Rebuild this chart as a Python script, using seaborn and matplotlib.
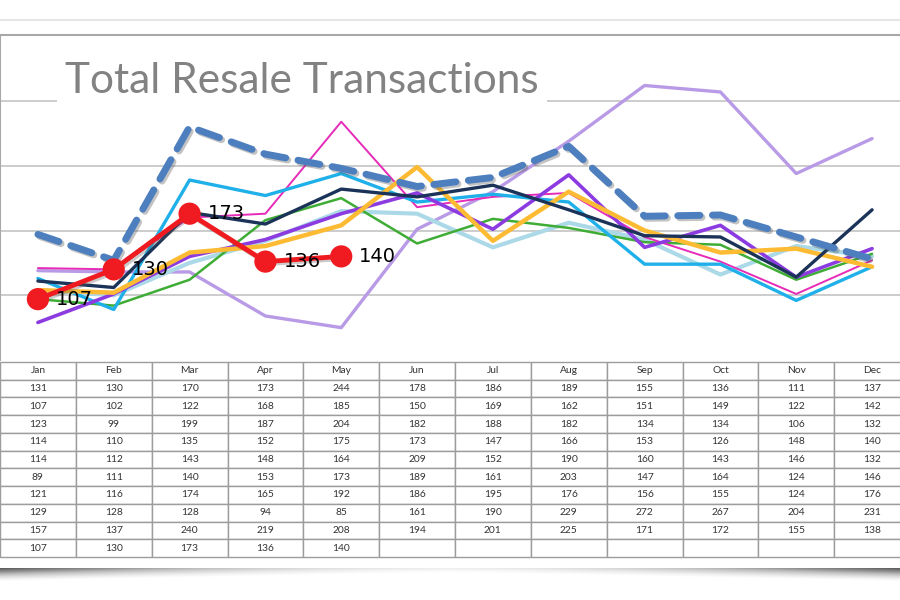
import matplotlib
matplotlib.use('Agg')
import matplotlib.pyplot as plt
import matplotlib.patheffects as pe
from matplotlib.lines import Line2D
import numpy as np
import seaborn as sns

months = ['Jan', 'Feb', 'Mar', 'Apr', 'May', 'Jun', 'Jul', 'Aug', 'Sep', 'Oct', 'Nov', 'Dec']

# one list per year (rows of the table, top to bottom)
year_1 = [131, 130, 170, 173, 244, 178, 186, 189, 155, 136, 111, 137]
year_2 = [107, 102, 122, 168, 185, 150, 169, 162, 151, 149, 122, 142]
year_3 = [123, 99, 199, 187, 204, 182, 188, 182, 134, 134, 106, 132]
year_4 = [114, 110, 135, 152, 175, 173, 147, 166, 153, 126, 148, 140]
year_5 = [114, 112, 143, 148, 164, 209, 152, 190, 160, 143, 146, 132]
year_6 = [89, 111, 140, 153, 173, 189, 161, 203, 147, 164, 124, 146]
year_7 = [121, 116, 174, 165, 192, 186, 195, 176, 156, 155, 124, 176]
year_8 = [129, 128, 128, 94, 85, 161, 190, 229, 272, 267, 204, 231]
year_9 = [157, 137, 240, 219, 208, 194, 201, 225, 171, 172, 155, 138]
current = [107, 130, 173, 136, 140]

rows = [year_1, year_2, year_3, year_4, year_5, year_6, year_7, year_8, year_9, current]

sns.set_style('white')

fig = plt.figure(figsize=(9, 6), dpi=100)
ax = fig.add_axes([0, 1 - 360 / 600, 910 / 900, 325 / 600])

# (data, colour, width, draw order)
styles = [
    (year_8, '#b99ae6', 2.4, 2),
    (year_4, '#acd9e8', 3.0, 2),
    (year_2, '#3fad35', 1.8, 3),
    (year_1, '#e62bb8', 1.4, 3),
    (year_3, '#1fb0ea', 2.4, 3),
    (year_6, '#8c3be0', 2.6, 4),
    (year_5, '#fdbb33', 3.2, 4),
    (year_7, '#1b3358', 2.4, 5),
]
x_all = list(range(12))
for vals, col, lw, z in styles:
    sns.lineplot(x=x_all, y=vals, ax=ax, color=col, lw=lw, zorder=z)

sns.lineplot(x=x_all, y=year_9, ax=ax, color='#4d7fbf', lw=5, zorder=6)
dash = ax.lines[-1]
dash.set_dashes([3.2, 1.8])
dash.set_dash_capstyle('round')
dash.set_path_effects([pe.SimpleLineShadow(offset=(1.5, -1.5), shadow_color='#555555', alpha=0.35), pe.Normal()])

x_cur = list(range(len(current)))
sns.lineplot(x=x_cur, y=current, ax=ax, color='#f01b20', lw=3.5, marker='o',
             markersize=16, markeredgewidth=0, zorder=7)
ax.lines[-1].set_path_effects([pe.SimpleLineShadow(offset=(1.5, -1.5), shadow_color='#555555', alpha=0.3), pe.Normal()])
for i, v in enumerate(current):
    ax.annotate(str(v), (i, v), xytext=(13, 0), textcoords='offset points',
                ha='left', va='center', fontsize=14, color='black', zorder=8)

ax.set_xlim(-0.5, 11.5)
ax.set_ylim(60, 311)
ax.set_yticks([110, 160, 210, 260])
ax.set_xticks([])
ax.yaxis.grid(True, color='#c4c4c4', lw=1.2)
ax.tick_params(left=False, labelleft=False)
ax.set_xlabel('')
ax.set_ylabel('')
for s in ['right', 'bottom']:
    ax.spines[s].set_visible(False)
for s in ['top', 'left']:
    ax.spines[s].set_color('#a8a8a8')
    ax.spines[s].set_linewidth(1.5)

fig.text(302 / 900, 1 - 81 / 600, 'Total Resale Transactions', ha='center', va='center',
         fontsize=30.5, color='#828282', family=['Lato', 'DejaVu Sans'],
         bbox=dict(facecolor='white', edgecolor='none', pad=6))

# data table under the chart
tax = fig.add_axes([0, 1 - 557 / 600, 910 / 900, 195 / 600])
tax.axis('off')
cell_text = [[str(v) for v in r] + [''] * (12 - len(r)) for r in rows]
tbl = tax.table(cellText=cell_text, colLabels=months, cellLoc='center', bbox=[0, 0, 1, 1])
tbl.auto_set_font_size(False)
tbl.set_fontsize(7.4)
for cell in tbl.get_celld().values():
    cell.set_edgecolor('#9c9c9c')
    cell.set_linewidth(1.0)
    cell.get_text().set_color('#333333')
    cell.get_text().set_family(['Lato', 'DejaVu Sans'])

# picture frame touches: faint top line and curled shadow under the page
fig.add_artist(Line2D([0, 1], [1 - 20 / 600, 1 - 20 / 600], color='#e6e6e6', lw=1.5))
sax = fig.add_axes([0, 1 - 581 / 600, 1, 13 / 600], zorder=-1)
sax.axis('off')
u = np.linspace(-1, 1, 400)
v = np.linspace(0, 1, 30)[:, None]
edge = 0.2 + 0.8 * np.abs(u) ** 1.5
shade = np.clip(edge * (1 - v / (0.3 + 0.7 * np.abs(u)[None, :] + 0.01)), 0, 1)
sax.imshow(shade, cmap='Greys', vmin=0, vmax=1.4, aspect='auto', interpolation='bilinear')

fig.savefig('out.png', dpi=100)
